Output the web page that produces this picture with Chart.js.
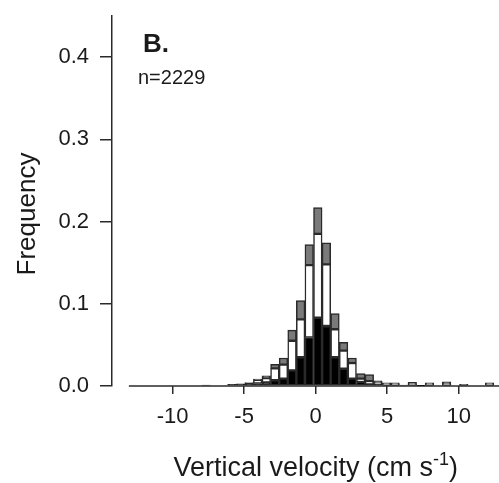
<!DOCTYPE html>
<html>
<head>
<meta charset="utf-8">
<script src="https://cdn.jsdelivr.net/npm/chart.js@4"></script>
<style>
  html, body { margin: 0; padding: 0; background: #fff; }
  canvas { display: block; }
</style>
</head>
<body>
<canvas id="hist" width="499" height="483"></canvas>
<script>
// bin centres (cm s-1), bins 0.6 wide
const binCenters = [-7.65, -7.05, -6.45, -5.85, -5.25, -4.65, -4.05, -3.45, -2.85, -2.25,
  -1.65, -1.05, -0.45, 0.15, 0.75, 1.35, 1.95, 2.55, 3.15, 3.75,
  4.35, 4.95, 5.55, 6.15, 6.75, 7.35, 7.95, 8.55, 9.15, 9.75,
  10.35, 10.95, 11.55, 12.15];

// stacked frequencies, bottom to top
const blackFreq = [0.001, 0, 0, 0.002, 0.0027, 0.0033, 0.003, 0.0045, 0.007, 0.009,
  0.019, 0.035, 0.059, 0.083, 0.073, 0.035, 0.021, 0.009, 0.005, 0.002,
  0.002, 0.001, 0.001, 0.001, 0.001, 0.0005, 0.001, 0, 0.001, 0,
  0.001, 0, 0, 0.001];
const whiteFreq = [0, 0, 0, 0, 0, 0.0008, 0.0045, 0.005, 0.0145, 0.017,
  0.036, 0.046, 0.088, 0.102, 0.075, 0.034, 0.022, 0.019, 0.004, 0.004,
  0.0013, 0.001, 0.001, 0, 0.001, 0, 0.001, 0, 0.001, 0,
  0, 0, 0, 0.001];
const grayFreq = [0, 0, 0, 0, 0, 0, 0.001, 0.003, 0.005, 0.008,
  0.013, 0.023, 0.025, 0.032, 0.026, 0.019, 0.010, 0.006, 0.006, 0.008,
  0.003, 0.002, 0.002, 0, 0.0025, 0, 0.002, 0, 0.003, 0,
  0.001, 0, 0, 0.002];

const yTicks = [0, 0.1, 0.2, 0.3, 0.4];
const xTicks = [-10, -5, 0, 5, 10];

const panelLabel = "B.";
const countLabel = "n=2229";
const yTitle = "Frequency";
const xTitle = "Vertical velocity (cm s";
const xTitleSup = "-1";

const FONT = "'Liberation Sans', Arial, sans-serif";
const INK = "#1a1a1a";
const EDGE = "#2a2a2a";

const toPoints = arr => arr.map((v, i) => ({ x: binCenters[i], y: v }));

const barStyle = {
  borderColor: EDGE,
  borderWidth: 1.5,
  borderSkipped: false,
  barPercentage: 1,
  categoryPercentage: 1,
};

// baseline and texts drawn on the canvas
const decorPlugin = {
  id: "decor",
  beforeDatasetsDraw(chart) {
    const { ctx, chartArea } = chart;
    const xs = chart.scales.x, ys = chart.scales.y;
    const y0 = ys.getPixelForValue(0);
    ctx.save();
    ctx.strokeStyle = EDGE;
    ctx.lineWidth = 1.5;
    ctx.beginPath();
    ctx.moveTo(xs.getPixelForValue(-13.05), y0);
    ctx.lineTo(chartArea.right, y0);
    ctx.stroke();
    ctx.restore();
  },
  afterDraw(chart) {
    const { ctx } = chart;
    const xs = chart.scales.x;
    ctx.save();
    ctx.fillStyle = INK;
    ctx.textBaseline = "alphabetic";

    ctx.font = "bold 26px " + FONT;
    ctx.textAlign = "left";
    ctx.fillText(panelLabel, 143, 52);

    ctx.font = "20px " + FONT;
    ctx.fillText(countLabel, 138, 84);

    // y title
    ctx.save();
    ctx.translate(35, 214);
    ctx.rotate(-Math.PI / 2);
    ctx.font = "26px " + FONT;
    ctx.textAlign = "center";
    ctx.fillText(yTitle, 0, 0);
    ctx.restore();

    // x title with superscript
    ctx.font = "27px " + FONT;
    const w1 = ctx.measureText(xTitle).width;
    ctx.font = "18px " + FONT;
    const w2 = ctx.measureText(xTitleSup).width;
    ctx.font = "27px " + FONT;
    const w3 = ctx.measureText(")").width;
    const cx = xs.getPixelForValue(0);
    let x = cx - (w1 + w2 + w3) / 2;
    const base = 476;
    ctx.textAlign = "left";
    ctx.fillText(xTitle, x, base);
    x += w1;
    ctx.font = "18px " + FONT;
    ctx.fillText(xTitleSup, x, base - 11);
    x += w2;
    ctx.font = "27px " + FONT;
    ctx.fillText(")", x, base);
    ctx.restore();
  }
};

new Chart(document.getElementById("hist"), {
  type: "bar",
  data: {
    datasets: [
      { label: "black", data: toPoints(blackFreq), backgroundColor: "#000000", ...barStyle },
      { label: "white", data: toPoints(whiteFreq), backgroundColor: "#ffffff", ...barStyle },
      { label: "gray", data: toPoints(grayFreq), backgroundColor: "#7a7a7a", ...barStyle },
    ],
  },
  options: {
    responsive: false,
    animation: false,
    events: [],
    layout: { padding: { top: 16, right: 0, bottom: 0, left: 0 } },
    plugins: {
      legend: { display: false },
      tooltip: { enabled: false },
    },
    scales: {
      x: {
        type: "linear",
        stacked: true,
        offset: false,
        min: -14.23,
        max: 12.81,
        afterFit: s => {
          s.height = 97;
          s.paddingLeft = 0; s.paddingRight = 0;
        },
        afterBuildTicks: s => { s.ticks = xTicks.map(v => ({ value: v })); },
        border: { display: false },
        grid: {
          offset: false,
          drawOnChartArea: false,
          drawTicks: true,
          tickLength: 8,
          color: EDGE,
          lineWidth: 1.5,
        },
        ticks: {
          color: INK,
          padding: 10,
          maxRotation: 0,
          autoSkip: false,
          font: { family: FONT, size: 22 },
          callback: v => String(v),
        },
      },
      y: {
        stacked: true,
        min: 0,
        max: 0.45,
        afterFit: s => {
          s.width = 112;
          s.paddingTop = 0; s.paddingBottom = 0;
        },
        afterBuildTicks: s => { s.ticks = yTicks.map(v => ({ value: v })); },
        border: { display: true, color: EDGE, width: 1.5 },
        grid: {
          offset: false,
          drawOnChartArea: false,
          drawTicks: true,
          tickLength: 12,
          color: EDGE,
          lineWidth: 1.5,
        },
        ticks: {
          color: INK,
          padding: 11,
          font: { family: FONT, size: 22 },
          callback: v => Number(v).toFixed(1),
        },
      },
    },
  },
  plugins: [decorPlugin],
});
</script>
</body>
</html>
